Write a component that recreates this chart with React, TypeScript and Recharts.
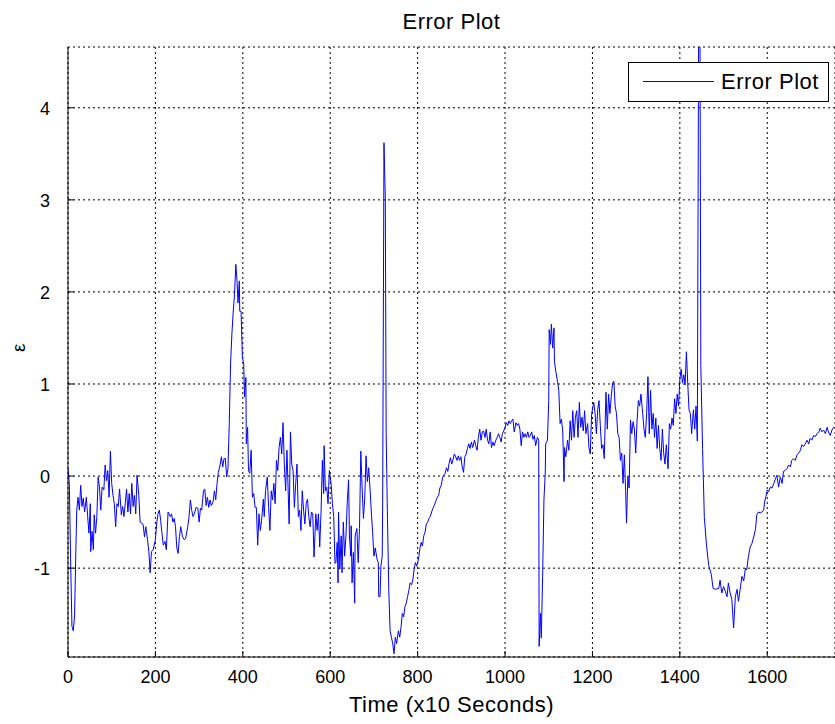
import React from 'react'
import { LineChart, Line, XAxis, YAxis, CartesianGrid, Legend, Label } from 'recharts'

type Pt = [number, number]

// [time (x10 s), error], segment by segment
const seg0to290: Pt[] = [
  [0, 0.08], [3, -0.08], [6, -0.91], [9, -1.63], [12, -1.68], [15, -1.52], [18, -0.8], [20, -0.37],
  [23, -0.23], [26, -0.37], [29, -0.1], [32, -0.33], [35, -0.24], [38, -0.39], [42, -0.23], [45, -0.44],
  [48, -0.62], [51, -0.3], [52, -0.82], [55, -0.6], [58, -0.8], [60, -0.42], [63, -0.62], [66, -0.44],
  [69, -0.01], [72, -0.12], [75, -0.37], [78, -0.12], [82, -0.15], [85, 0.12], [88, -0.05], [91, 0.06],
  [94, -0.23], [97, 0.27], [100, -0.08], [103, -0.21], [106, -0.3], [109, -0.55], [112, -0.3], [115, -0.33],
  [118, -0.14], [122, -0.42], [125, -0.33], [128, -0.44], [131, -0.3], [134, -0.14], [137, -0.39], [140, -0.19],
  [143, -0.41], [146, -0.08], [149, -0.33], [152, -0.21], [155, -0.41], [158, 0.01], [162, -0.21], [165, -0.5],
  [169, -0.51], [172, -0.53], [175, -0.66], [178, -0.55], [182, -0.69], [185, -0.82], [188, -1.05], [191, -0.82],
  [195, -0.8], [200, -0.69], [203, -0.51], [206, -0.41], [209, -0.37], [212, -0.48], [215, -0.62], [218, -0.75],
  [222, -0.71], [225, -0.8], [229, -0.39], [234, -0.44], [237, -0.41], [240, -0.5], [243, -0.46], [246, -0.55],
  [249, -0.78], [252, -0.84], [255, -0.66], [258, -0.55], [262, -0.66], [266, -0.69], [269, -0.68], [274, -0.55],
  [277, -0.44], [280, -0.26], [283, -0.37], [286, -0.44], [289, -0.41],
]

const seg293to611: Pt[] = [
  [293, -0.34], [297, -0.35], [300, -0.5], [303, -0.35], [306, -0.37], [310, -0.16], [313, -0.14], [316, -0.32],
  [319, -0.23], [322, -0.34], [325, -0.26], [328, -0.32], [332, -0.28], [335, -0.16], [338, -0.26], [341, -0.08],
  [344, 0.04], [348, 0.12], [351, 0.21], [354, 0.1], [357, 0.19], [360, 0.19], [363, -0.01], [366, 0.08],
  [369, 0.57], [372, 1.22], [375, 1.54], [378, 1.78], [381, 1.97], [384, 2.3], [387, 2.1], [389, 1.88],
  [392, 2.12], [393, 1.79], [396, 1.79], [399, 1.29], [402, 1.22], [404, 0.86], [407, 1.07], [408, 0.35],
  [411, 0.53], [413, 0.06], [416, 0.03], [419, 0.28], [422, -0.23], [425, -0.19], [428, -0.34], [431, -0.34],
  [434, -0.75], [437, -0.41], [440, -0.59], [443, -0.48], [447, -0.25], [449, -0.44], [452, -0.16], [456, -0.01],
  [459, -0.34], [462, -0.59], [465, -0.16], [468, -0.26], [471, -0.08], [474, -0.3], [477, 0.17], [480, 0.06],
  [483, 0.31], [486, 0.42], [489, 0.24], [492, 0.58], [495, 0.13], [498, -0.16], [501, 0.28], [506, -0.52],
  [509, 0.48], [512, 0.13], [515, 0.06], [518, -0.34], [521, -0.08], [524, 0.13], [527, -0.44], [530, -0.37],
  [533, -0.59], [536, -0.16], [539, -0.37], [542, -0.52], [545, -0.3], [548, -0.25], [551, -0.44], [554, -0.55],
  [557, -0.39], [560, -0.41], [563, -0.88], [567, -0.41], [570, -0.59], [573, -0.41], [576, -0.77], [579, -0.39],
  [582, 0.17], [585, -0.19], [586, 0.33], [589, -0.16], [592, -0.12], [595, -0.3], [598, 0.06], [602, -0.08],
  [605, -0.3], [608, -0.44], [611, -0.95],
]

const seg613to881: Pt[] = [
  [613, -0.94], [616, -0.72], [618, -1.16], [619, -0.39], [622, -1.01], [625, -0.65], [627, -1.05], [630, -0.5],
  [633, -0.87], [636, -0.65], [639, -0.28], [642, -0.04], [644, -0.65], [647, -0.87], [648, -0.54], [650, -1.16],
  [653, -0.83], [656, -1.38], [657, -0.65], [661, -0.57], [664, -0.94], [667, -0.57], [670, 0.27], [673, -0.13],
  [676, -0.46], [679, -0.24], [682, 0.22], [685, -0.06], [688, 0.09], [691, -0.13], [694, -0.39], [697, -0.61],
  [700, -0.87], [703, -0.78], [707, -0.9], [710, -0.94], [711, -1.31], [714, -1.31], [716, -0.98], [719, -0.87],
  [720, -0.28], [723, 3.62], [726, 3.03], [728, 0.46], [731, -0.46], [734, -1.24], [737, -1.68], [740, -1.75],
  [743, -1.82], [746, -1.93], [749, -1.75], [752, -1.82], [756, -1.68], [759, -1.75], [762, -1.64], [765, -1.49],
  [768, -1.53], [771, -1.42], [774, -1.38], [777, -1.31], [780, -1.24], [783, -1.16], [786, -1.18], [789, -1.13],
  [792, -1.01], [795, -0.94], [798, -0.98], [802, -0.9], [805, -0.79], [808, -0.72], [811, -0.76], [814, -0.65],
  [817, -0.61], [820, -0.52], [823, -0.5], [826, -0.46], [829, -0.44], [832, -0.39], [835, -0.35], [838, -0.32],
  [841, -0.28], [844, -0.24], [848, -0.21], [851, -0.13], [854, -0.1], [857, -0.02], [860, 0.01], [863, 0.03],
  [866, 0.09], [869, 0.05], [872, 0.14], [875, 0.2], [878, 0.13], [881, 0.18],
]

const seg884to1198: Pt[] = [
  [884, 0.24], [887, 0.21], [890, 0.17], [893, 0.22], [896, 0.17], [899, 0.21], [902, 0.1], [905, 0.04],
  [908, 0.21], [911, 0.24], [914, 0.3], [917, 0.35], [920, 0.3], [923, 0.37], [926, 0.31], [930, 0.39],
  [933, 0.33], [936, 0.28], [939, 0.42], [942, 0.51], [945, 0.39], [948, 0.48], [951, 0.49], [954, 0.42],
  [957, 0.51], [960, 0.39], [963, 0.35], [966, 0.48], [969, 0.31], [972, 0.37], [975, 0.33], [979, 0.39],
  [982, 0.42], [985, 0.46], [988, 0.42], [991, 0.37], [994, 0.46], [997, 0.49], [1000, 0.53], [1003, 0.58],
  [1006, 0.55], [1009, 0.6], [1012, 0.57], [1015, 0.6], [1018, 0.62], [1021, 0.48], [1025, 0.58], [1028, 0.55],
  [1031, 0.57], [1034, 0.51], [1037, 0.33], [1040, 0.48], [1043, 0.42], [1046, 0.46], [1049, 0.42], [1052, 0.48],
  [1055, 0.42], [1058, 0.44], [1061, 0.48], [1064, 0.4], [1067, 0.44], [1070, 0.33], [1074, 0.42], [1077, 0.39],
  [1078, -1.85], [1081, -1.49], [1083, -1.76], [1086, -1.09], [1089, -0.26], [1092, 0.03], [1093, 0.35], [1097, 0.39],
  [1100, 0.82], [1101, 1.59], [1104, 1.43], [1106, 1.65], [1109, 1.39], [1112, 1.61], [1113, 1.25], [1116, 1.14],
  [1120, 1.03], [1123, 0.93], [1126, 0.57], [1129, 0.62], [1132, 0.49], [1135, -0.06], [1136, 0.31], [1139, 0.21],
  [1143, 0.39], [1146, 0.28], [1149, 0.6], [1152, 0.39], [1155, 0.71], [1158, 0.42], [1161, 0.64], [1164, 0.71],
  [1167, 0.42], [1170, 0.8], [1173, 0.53], [1176, 0.64], [1179, 0.49], [1182, 0.71], [1185, 0.46], [1189, 0.57],
  [1192, 0.31], [1195, 0.24], [1198, 0.67],
]

const seg1203to1476: Pt[] = [
  [1203, 0.8], [1206, 0.68], [1209, 0.46], [1212, 0.72], [1215, 0.82], [1218, 0.55], [1221, 0.3], [1224, 0.34],
  [1227, 0.19], [1231, 0.91], [1234, 0.51], [1237, 0.89], [1240, 0.68], [1243, 0.86], [1246, 1.01], [1249, 1.03],
  [1252, 0.76], [1255, 0.68], [1258, 0.46], [1261, 0.42], [1264, 0.17], [1267, 0.25], [1270, -0.08], [1273, 0.23],
  [1276, -0.17], [1278, -0.51], [1281, 0.0], [1284, -0.13], [1287, 0.61], [1290, 0.46], [1293, 0.59], [1296, 0.51],
  [1299, 0.25], [1302, 0.59], [1305, 0.82], [1308, 0.76], [1311, 0.89], [1315, 0.68], [1318, 0.51], [1321, 0.42],
  [1324, 0.68], [1327, 1.08], [1330, 0.46], [1333, 0.93], [1336, 0.51], [1339, 0.68], [1342, 0.42], [1345, 0.63],
  [1348, 0.3], [1351, 0.55], [1354, 0.3], [1357, 0.17], [1360, 0.51], [1363, 0.25], [1366, 0.13], [1369, 0.34],
  [1373, 0.08], [1376, 0.57], [1379, 0.51], [1382, 0.63], [1385, 0.55], [1388, 0.84], [1391, 0.68], [1394, 0.89],
  [1397, 0.76], [1400, 1.05], [1403, 1.16], [1406, 1.01], [1409, 1.1], [1412, 0.99], [1415, 1.35], [1418, 1.01],
  [1421, 0.72], [1424, 0.68], [1427, 0.46], [1431, 0.72], [1434, 0.51], [1437, 0.76], [1440, 0.38],
  [1443, 4.95], [1446, 4.95], [1448, 1.2], [1452, 0.3], [1456, -0.45], [1461, -0.75], [1466, -0.97], [1472, -1.07],
  [1476, -1.22],
]

const seg1481to1755: Pt[] = [
  [1481, -1.23], [1489, -1.22], [1492, -1.13], [1496, -1.27], [1500, -1.2], [1504, -1.25], [1508, -1.31], [1511, -1.16],
  [1515, -1.27], [1519, -1.34], [1523, -1.65], [1527, -1.31], [1531, -1.23], [1534, -1.36], [1538, -1.23], [1542, -1.09],
  [1546, -1.14], [1550, -1.0], [1553, -1.02], [1557, -0.87], [1561, -0.77], [1565, -0.73], [1569, -0.66], [1573, -0.58],
  [1576, -0.42], [1580, -0.39], [1584, -0.4], [1588, -0.39], [1592, -0.37], [1594, -0.28], [1597, -0.22], [1600, -0.15],
  [1603, -0.17], [1607, -0.12], [1611, -0.13], [1615, -0.08], [1618, -0.04], [1622, 0.01], [1626, -0.12], [1630, -0.01],
  [1634, -0.08], [1637, 0.05], [1641, 0.06], [1645, 0.08], [1649, 0.12], [1653, 0.1], [1656, 0.17], [1660, 0.19],
  [1664, 0.17], [1668, 0.23], [1672, 0.25], [1676, 0.28], [1679, 0.34], [1683, 0.32], [1687, 0.35], [1691, 0.39],
  [1695, 0.35], [1698, 0.41], [1702, 0.39], [1706, 0.44], [1710, 0.43], [1714, 0.46], [1718, 0.48], [1721, 0.52],
  [1725, 0.48], [1729, 0.5], [1733, 0.46], [1737, 0.53], [1740, 0.48], [1744, 0.44], [1748, 0.5], [1752, 0.53],
  [1755, 0.52],
]

const xTicks = [0, 200, 400, 600, 800, 1000, 1200, 1400, 1600]
const yTicks = [-1, 0, 1, 2, 3, 4]

const data = [seg0to290, seg293to611, seg613to881, seg884to1198, seg1203to1476, seg1481to1755]
  .flat()
  .map(([t, e]) => ({ t, e }))

const font = '"Liberation Sans", Arial, Helvetica, sans-serif'

const BottomTick = (props: any) => {
  const { x, y, payload } = props
  return (
    <g>
      <line x1={x} y1={y} x2={x} y2={y - 6} stroke="#000" />
      <text x={x} y={y + 26} textAnchor="middle" fontSize={18} fill="#000" fontFamily={font}>
        {payload.value}
      </text>
    </g>
  )
}

const TopTick = (props: any) => {
  const { x, y } = props
  return <line x1={x} y1={y} x2={x} y2={y + 6} stroke="#000" />
}

const LeftTick = (props: any) => {
  const { x, y, payload } = props
  return (
    <g>
      <line x1={x} y1={y} x2={x + 6} y2={y} stroke="#000" />
      <text x={x - 18} y={y + 7} textAnchor="end" fontSize={18} fill="#000" fontFamily={font}>
        {payload.value}
      </text>
    </g>
  )
}

const LegendBox = () => (
  <div
    style={{
      width: 199,
      height: 38,
      border: '1px solid #000',
      background: '#fff',
      position: 'relative',
      fontFamily: font,
    }}
  >
    <div style={{ position: 'absolute', left: 14, top: 18, width: 71, height: 1, background: '#0000ff' }} />
    <div
      style={{
        position: 'absolute',
        left: 92,
        top: 7,
        fontSize: 22,
        letterSpacing: 0.5,
        lineHeight: '24px',
        color: '#000',
      }}
    >
      Error Plot
    </div>
  </div>
)

export default function App() {
  return (
    <div style={{ position: 'absolute', left: 0, top: 0, width: 835, height: 724, background: '#fff', fontFamily: font }}>
      <div
        style={{
          position: 'absolute',
          left: 68,
          width: 767,
          top: 9,
          textAlign: 'center',
          fontSize: 22,
          letterSpacing: 0.5,
          lineHeight: '26px',
          color: '#000',
        }}
      >
        Error Plot
      </div>
      <LineChart width={835} height={724} data={data} margin={{ top: 47, right: 0, bottom: 37, left: 8 }}>
        <CartesianGrid stroke="#000" strokeDasharray="2 3" strokeWidth={1} />
        <XAxis
          dataKey="t"
          type="number"
          domain={[0, 1755]}
          ticks={xTicks}
          allowDataOverflow
          height={30}
          tickSize={0}
          tickMargin={0}
          tickLine={false}
          tick={<BottomTick />}
          axisLine={{ stroke: '#000' }}
          interval={0}
        >
          <Label
            value="Time (x10 Seconds)"
            position="bottom"
            offset={9}
            fontSize={22}
            letterSpacing={0.5}
            fill="#000"
            fontFamily={font}
          />
        </XAxis>
        <XAxis
          xAxisId="top"
          orientation="top"
          dataKey="t"
          type="number"
          domain={[0, 1755]}
          ticks={xTicks}
          allowDataOverflow
          height={0}
          tickSize={0}
          tickMargin={0}
          tickLine={false}
          tick={<TopTick />}
          axisLine={{ stroke: '#000' }}
          interval={0}
        />
        <YAxis
          type="number"
          domain={[-1.965, 4.66]}
          ticks={yTicks}
          allowDataOverflow
          width={60}
          tickSize={0}
          tickMargin={0}
          tickLine={false}
          tick={<LeftTick />}
          axisLine={{ stroke: '#000' }}
          interval={0}
        >
          <Label value="ε" angle={-90} position="insideLeft" offset={10} fontSize={19} fill="#000" fontFamily={font} />
        </YAxis>
        <Legend
          layout="horizontal"
          verticalAlign="middle"
          align="center"
          wrapperStyle={{ top: 62, left: 628, width: 201 }}
          content={() => <LegendBox />}
        />
        <Line
          type="linear"
          dataKey="e"
          name="Error Plot"
          stroke="#0000ff"
          strokeWidth={1}
          dot={false}
          activeDot={false}
          isAnimationActive={false}
        />
      </LineChart>
    </div>
  )
}
